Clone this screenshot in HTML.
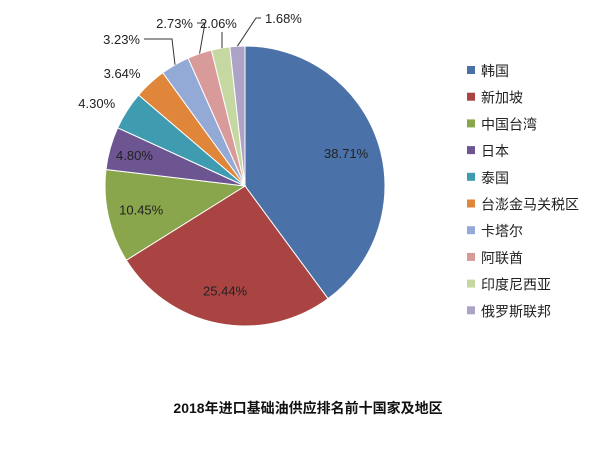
<!DOCTYPE html>
<html><head><meta charset="utf-8"><style>
body{margin:0;background:#fff;width:615px;height:444px;overflow:hidden}
text{font-family:"Liberation Sans","Noto Sans CJK SC",sans-serif}
</style></head><body>
<svg id="chart" width="615" height="444" xmlns="http://www.w3.org/2000/svg">
<g id="slices"></g>
<g id="labels"></g>
<g id="legend"></g>
<text x="308" y="413" text-anchor="middle" font-size="14" font-weight="bold" fill="#111">2018年进口基础油供应排名前十国家及地区</text>
</svg>
<script>
const categories=["韩国","新加坡","中国台湾","日本","泰国","台澎金马关税区","卡塔尔","阿联酋","印度尼西亚","俄罗斯联邦"];
const values=[38.71,25.44,10.45,4.80,4.30,3.64,3.23,2.73,2.06,1.68];
const labels=["38.71%","25.44%","10.45%","4.80%","4.30%","3.64%","3.23%","2.73%","2.06%","1.68%"];
const colors=["#4a72a8","#a94442","#8aa64c","#6c5590","#3f9bb0","#e0863a","#94aad6","#d99a9a","#c6d8a2","#ada3c6"];
const NS="http://www.w3.org/2000/svg";
const cx=245,cy=186,r=140;
const total=values.reduce((a,b)=>a+b,0);
function pt(a,rr){return [cx+rr*Math.sin(a),cy-rr*Math.cos(a)];}
const gS=document.getElementById('slices'),gL=document.getElementById('labels'),gG=document.getElementById('legend');
// outer label layout for small slices: [textX, textY, anchor, elbowX]
const outer={6:[140,44,'end',172],7:[193,28,'end',205],8:[200,28,'start',222],9:[265,23,'start',256]};
let start=0;
values.forEach((v,i)=>{
  const sweep=v/total*2*Math.PI,end=start+sweep;
  const p1=pt(start,r),p2=pt(end,r);
  const path=document.createElementNS(NS,'path');
  path.setAttribute('d',`M${cx},${cy}L${p1[0]},${p1[1]}A${r},${r} 0 ${sweep>Math.PI?1:0} 1 ${p2[0]},${p2[1]}Z`);
  path.setAttribute('fill',colors[i]);path.setAttribute('stroke','#fff');path.setAttribute('stroke-width','1');
  
  
  gS.appendChild(path);
  const mid=(start+end)/2;
  const t=document.createElementNS(NS,'text');
  t.setAttribute('font-size','13');t.setAttribute('fill','#222');
  
  
  t.textContent=labels[i];
  if(i<4){
    const p=pt(mid,i<3?r*0.76:r*0.82);
    t.setAttribute('x',p[0]);t.setAttribute('y',p[1]+5);t.setAttribute('text-anchor','middle');
  }else if(i<6){
    const p=pt(mid,r+14);
    t.setAttribute('x',p[0]);t.setAttribute('y',p[1]+5);t.setAttribute('text-anchor','end');
  }else{
    const e=pt(mid,r);
    const o=outer[i];
    const ly=o[1]-5;
    const ln=document.createElementNS(NS,'polyline');
    let pts;
    if(i==9) pts=`${e[0]},${e[1]} ${o[3]},${ly} ${o[0]-4},${ly}`;
    else if(i==8) pts=`${o[3]},${e[1]} ${o[3]},${ly+9}`;
    else pts=`${o[0]+4},${ly} ${o[3]},${ly} ${e[0]},${e[1]}`;
    ln.setAttribute('points',pts);
    ln.setAttribute('fill','none');ln.setAttribute('stroke','#333');ln.setAttribute('stroke-width','1');
    
    
    gL.appendChild(ln);
    t.setAttribute('x',o[0]);t.setAttribute('y',o[1]);
    t.setAttribute('text-anchor',o[2]);
  }
  gL.appendChild(t);
  start=end;
});
categories.forEach((c,i)=>{
  const y=71+i*26.7;
  const s=document.createElementNS(NS,'rect');
  s.setAttribute('x',467);s.setAttribute('y',y-5);s.setAttribute('width',8);s.setAttribute('height',8);s.setAttribute('fill',colors[i]);
  
  
  gG.appendChild(s);
  const t=document.createElementNS(NS,'text');
  t.setAttribute('x',481);t.setAttribute('y',y+5);t.setAttribute('font-size','14');t.setAttribute('fill','#222');
  
  
  t.textContent=c;gG.appendChild(t);
});
</script>
</body></html>
